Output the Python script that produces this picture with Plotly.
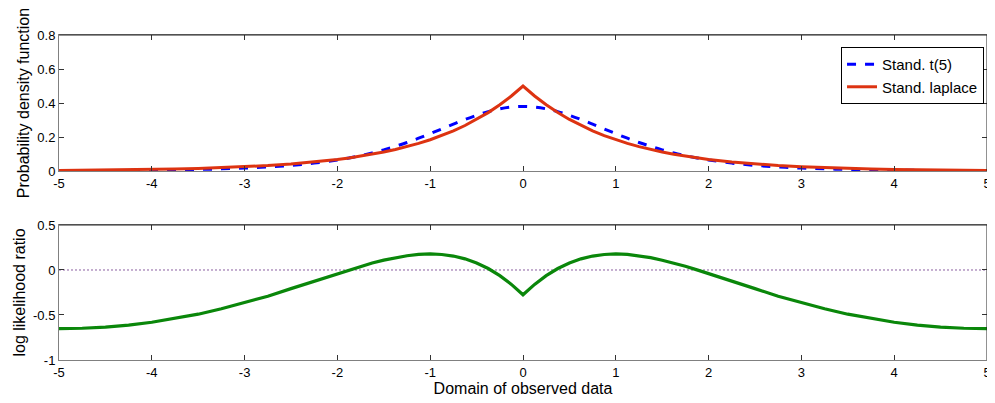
import plotly.graph_objects as go

# x grid (domain of observed data), right half; left half is the mirror image
x_half = [0.0, 0.125, 0.25, 0.375, 0.5, 0.625, 0.75, 0.875, 1.0, 1.125, 1.25, 1.375, 1.5,
          1.625, 1.75, 1.875, 2.0, 2.25, 2.5, 2.75, 3.0, 3.25, 3.5, 3.75, 4.0, 4.25, 4.5, 4.75, 5.0]

# values (symmetric curves)
t5_half = [0.3796, 0.3761, 0.3657, 0.3493, 0.3279, 0.3029, 0.2757, 0.2476, 0.2197, 0.1929,
           0.1679, 0.1450, 0.1245, 0.1064, 0.0905, 0.0768, 0.0651, 0.0466, 0.0333, 0.0239,
           0.0173, 0.0126, 0.0092, 0.0069, 0.0051, 0.0039, 0.0029, 0.0023, 0.0018]
laplace_half = [0.5, 0.4412, 0.3894, 0.3436, 0.3033, 0.2676, 0.2362, 0.2084, 0.1839, 0.1623,
                0.1433, 0.1264, 0.1116, 0.0985, 0.0869, 0.0767, 0.0677, 0.0527, 0.0410, 0.0320,
                0.0249, 0.0194, 0.0151, 0.0118, 0.0092, 0.0071, 0.0056, 0.0043, 0.0034]
llr_half = [-0.2755, -0.1596, -0.063, 0.0165, 0.078, 0.1239, 0.155, 0.1724, 0.178, 0.1727,
            0.158, 0.1373, 0.109, 0.0772, 0.041, 0.0013, -0.039, -0.124, -0.207, -0.291,
            -0.364, -0.431, -0.491, -0.540, -0.581, -0.612, -0.634, -0.647, -0.651]

x_vals = [-v for v in x_half[:0:-1]] + x_half
t5 = t5_half[:0:-1] + t5_half
laplace = laplace_half[:0:-1] + laplace_half
llr = llr_half[:0:-1] + llr_half

zero_x = [-5, 5]
zero_y = [0, 0]

x_ticks = [-5, -4, -3, -2, -1, 0, 1, 2, 3, 4, 5]
x_labels = ["-5", "-4", "-3", "-2", "-1", "0", "1", "2", "3", "4", "5"]
top_y_ticks = [0, 0.2, 0.4, 0.6, 0.8]
top_y_labels = ["0", "0.2", "0.4", "0.6", "0.8"]
bot_y_ticks = [-1, -0.5, 0, 0.5]
bot_y_labels = ["-1", "-0.5", "0", "0.5"]

FONT = "Liberation Sans, Arial, sans-serif"

fig = go.Figure()

fig.add_trace(go.Scatter(x=x_vals, y=t5, mode="lines", name="Stand. t(5)",
                         xaxis="x", yaxis="y",
                         line=dict(color="#0000ff", width=3, dash="dash", shape="spline")))
fig.add_trace(go.Scatter(x=x_vals, y=laplace, mode="lines", name="Stand. laplace",
                         xaxis="x", yaxis="y",
                         line=dict(color="#dd3311", width=3)))
fig.add_trace(go.Scatter(x=zero_x, y=zero_y, mode="lines", showlegend=False,
                         xaxis="x2", yaxis="y2",
                         line=dict(color="#8a5fa0", width=1, dash="2px,2px")))
fig.add_trace(go.Scatter(x=x_vals, y=llr, mode="lines", showlegend=False,
                         xaxis="x2", yaxis="y2",
                         line=dict(color="#0a870a", width=3.2)))

axis_common = dict(showgrid=False, zeroline=False, ticks="inside", ticklen=5,
                   tickcolor="#333333", showline=True, linecolor="#808080", linewidth=1,
                   mirror="ticks", tickfont=dict(family=FONT, size=13, color="black"))

TOP_DOM = [0.5815, 1.0]
BOT_DOM = [0.0, 0.4154]

fig.update_layout(
    width=987, height=395,
    margin=dict(l=51, r=4, t=27, b=43),
    paper_bgcolor="white", plot_bgcolor="white",
    font=dict(family=FONT, size=13, color="black"),
    showlegend=True,
    legend=dict(x=0.9968, y=0.963, xanchor="right", yanchor="top",
                bgcolor="white", bordercolor="black", borderwidth=1,
                itemwidth=30,
                font=dict(family=FONT, size=15, color="black"),
                tracegroupgap=0),
    xaxis=dict(domain=[0, 1], range=[-5.0001, 5.0001], tickvals=x_ticks, ticktext=x_labels,
               anchor="y", **axis_common),
    yaxis=dict(domain=TOP_DOM, range=[0, 0.8], tickvals=top_y_ticks,
               ticktext=top_y_labels, anchor="x",
               title=dict(text="Probability density function", font=dict(family=FONT, size=16),
                          standoff=3), **axis_common),
    xaxis2=dict(domain=[0, 1], range=[-5.0001, 5.0001], tickvals=x_ticks, ticktext=x_labels,
                anchor="y2",
                title=dict(text="Domain of observed data", font=dict(family=FONT, size=16),
                           standoff=2), **axis_common),
    yaxis2=dict(domain=BOT_DOM, range=[-1, 0.5], tickvals=bot_y_ticks,
                ticktext=bot_y_labels, anchor="x2",
                title=dict(text="log likelihood ratio", font=dict(family=FONT, size=16),
                           standoff=3), **axis_common),
)

# darker top/right borders
for dom in (TOP_DOM, BOT_DOM):
    fig.add_shape(type="line", xref="paper", yref="paper", x0=0, x1=1, y0=dom[1], y1=dom[1],
                  line=dict(color="#222222", width=1), layer="above")
    fig.add_shape(type="line", xref="paper", yref="paper", x0=1, x1=1, y0=dom[0], y1=dom[1],
                  line=dict(color="#222222", width=1), layer="above")

fig.write_html("out.html")
